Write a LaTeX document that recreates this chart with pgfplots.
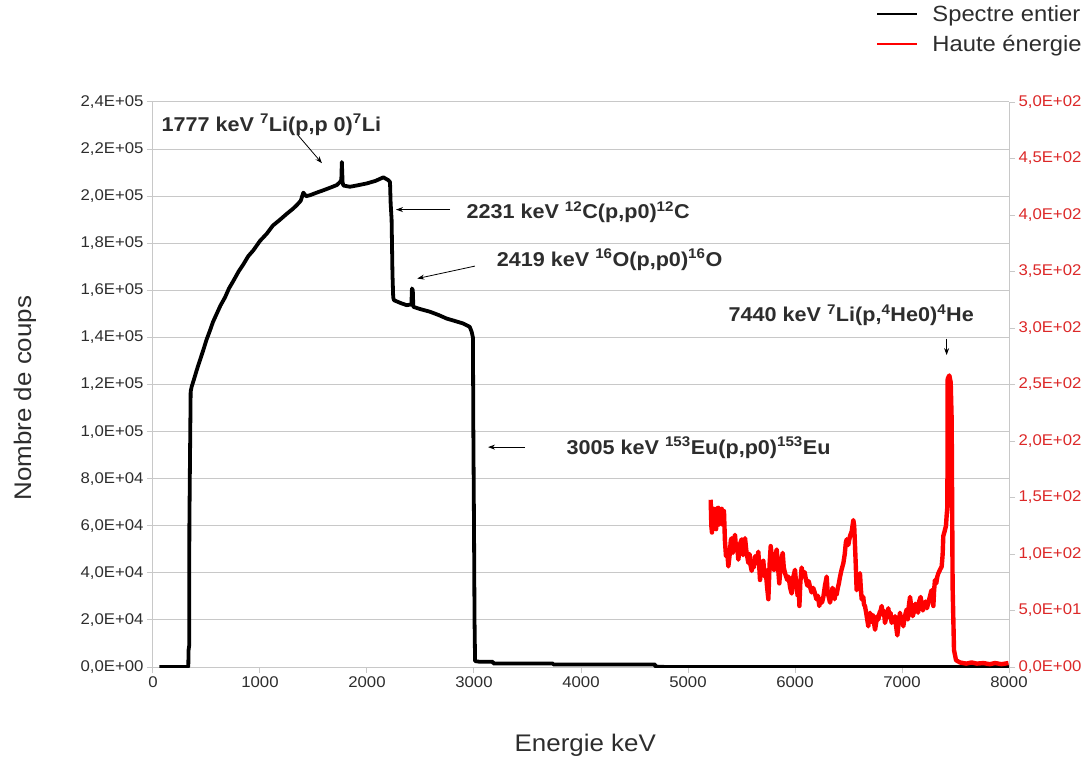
\documentclass[border=0pt]{standalone}
\usepackage{fontspec}
\setmainfont{Liberation Sans}[FakeStretch=1.08]
\usepackage{pgfplots}
\pgfplotsset{compat=1.18}
\usetikzlibrary{arrows.meta}
\definecolor{gridgray}{RGB}{200,200,200}
\definecolor{axred}{RGB}{220,40,40}
\definecolor{tickgray}{RGB}{45,45,45}
\begin{document}
\begin{tikzpicture}
\useasboundingbox (-153pt,-91pt) rectangle (939pt,667pt);
\begin{axis}[at={(0pt,0pt)}, anchor=south west, scale only axis,
  width=856pt, height=565pt,
  xmin=0, xmax=8000, ymin=0, ymax=240000,
  scaled ticks=false,
  axis x line*=bottom, axis y line*=left,
  axis line style={gridgray, line width=1pt, -},
  xtick={0,1000,...,8000},
  xticklabels={0,1000,2000,3000,4000,5000,6000,7000,8000},
  ytick={0,20000,...,240000},
  yticklabels={{0,0E+00},{2,0E+04},{4,0E+04},{6,0E+04},{8,0E+04},{1,0E+05},{1,2E+05},{1,4E+05},{1,6E+05},{1,8E+05},{2,0E+05},{2,2E+05},{2,4E+05}},
  tick style={gridgray, line width=1pt}, major tick length=6pt, tick align=outside,
  ymajorgrids, grid style={gridgray, line width=1pt},
  tick label style={font=\fontsize{15.5}{16}\selectfont, text=tickgray},
  ylabel={Nombre de coups},
  ylabel style={at={(-0.1495,0.476)}, anchor=center, font=\fontsize{24}{26}\selectfont, text=tickgray},
  xlabel={Energie keV},
  xlabel style={at={(0.505,-0.138)}, anchor=center, font=\fontsize{24}{26}\selectfont, text=tickgray},
]
\addplot[black, line width=3.8pt, line join=round] coordinates {
(60,0)(330,0)(332,7000)(338,9000)(340,60000)(345,85000)(352,117000)(361,119000)
(385,122500)(408,126000)(440,130500)(470,134600)(500,139000)(533,143000)(560,146500)(595,150000)(630,153500)(673,157000)(710,160800)(751,164000)(800,168000)(844,171000)
(890,174500)(938,177000)(1000,181000)(1062,184000)(1120,187500)(1187,190000)(1250,192500)(1312,194800)(1350,196500)(1380,198000)(1405,201500)(1430,200000)
(1467,200400)(1530,201500)(1592,202500)(1650,203500)(1717,204700)(1748,206000)(1760,207000)
(1765,214500)(1772,206000)(1779,204500)(1841,204000)(1900,204500)(1997,205400)(2080,206500)
(2153,208000)(2199,206800)(2215,206000)(2221,197000)(2230,190000)(2238,167000)(2245,157000)
(2252,155800)(2320,154500)(2371,153700)(2415,154000)(2420,160800)(2428,160000)(2433,153000)
(2500,152000)(2589,150900)(2670,149500)(2745,148000)(2820,147000)(2900,145900)(2960,144500)
(2978,142400)(2990,140000)(2994,100000)(3000,60000)(3005,20000)(3010,2500)(3056,2200)
(3178,2200)(3180,1500)(3738,1500)(3740,1100)(4692,1100)(4695,200)(4800,0)(8000,0)
};
\node[anchor=base west, font=\fontsize{20}{22}\selectfont\bfseries, text=tickgray] at (axis cs:47,227600)
  {1777 keV \textsuperscript{7}Li(p,p 0)\textsuperscript{7}Li};
\draw[-{Stealth[length=7pt,width=5pt]}, line width=0.8pt] (axis cs:1355,225900) -- (axis cs:1579,214000);
\node[anchor=base west, font=\fontsize{20}{22}\selectfont\bfseries, text=tickgray] at (axis cs:2897,190500)
  {2231 keV \textsuperscript{12}C(p,p0)\textsuperscript{12}C};
\draw[-{Stealth[length=7pt,width=5pt]}, line width=0.8pt] (axis cs:2776,194300) -- (axis cs:2271,194300);
\node[anchor=base west, font=\fontsize{20}{22}\selectfont\bfseries, text=tickgray] at (axis cs:3180,170300)
  {2419 keV \textsuperscript{16}O(p,p0)\textsuperscript{16}O};
\draw[-{Stealth[length=7pt,width=5pt]}, line width=0.8pt] (axis cs:3009,170300) -- (axis cs:2470,165000);
\node[anchor=base west, font=\fontsize{20}{22}\selectfont\bfseries, text=tickgray] at (axis cs:3832,90400)
  {3005 keV \textsuperscript{153}Eu(p,p0)\textsuperscript{153}Eu};
\draw[-{Stealth[length=7pt,width=5pt]}, line width=0.8pt] (axis cs:3477,93400) -- (axis cs:3131,93400);
\node[anchor=base west, font=\fontsize{20}{22}\selectfont\bfseries, text=tickgray] at (axis cs:5346,146600)
  {7440 keV \textsuperscript{7}Li(p,\textsuperscript{4}He0)\textsuperscript{4}He};
\draw[-{Stealth[length=7pt,width=5pt]}, line width=0.8pt] (axis cs:7417,139500) -- (axis cs:7417,132500);
\end{axis}
\begin{axis}[at={(0pt,0pt)}, anchor=south west, scale only axis,
  width=856pt, height=565pt,
  xmin=0, xmax=8000, ymin=0, ymax=500,
  scaled ticks=false,
  axis x line=none, axis y line*=right,
  axis line style={gridgray, line width=1pt, -},
  ytick={0,50,...,500},
  yticklabels={{0,0E+00},{5,0E+01},{1,0E+02},{1,5E+02},{2,0E+02},{2,5E+02},{3,0E+02},{3,5E+02},{4,0E+02},{4,5E+02},{5,0E+02}},
  tick style={gridgray, line width=1pt}, major tick length=6pt, tick align=outside,
  tick label style={font=\fontsize{15.5}{16}\selectfont, text=axred},
  legend style={at={(1.091,1.178)}, anchor=north east, draw=none, fill=none,
    font=\fontsize{22}{23}\selectfont, row sep=8pt, text=tickgray},
  legend cell align=left,
  legend image code/.code={\draw[#1] (0pt,0pt) -- (40pt,0pt); \path (52pt,0pt);},
]
\addlegendimage{black, line width=2.2pt}
\addlegendentry{Spectre entier}
\addlegendimage{red, line width=2.2pt}
\addlegendentry{Haute énergie}
\addplot[red, line width=4.4pt, line join=round, forget plot] coordinates {
(5212,148)(5218,125)(5224,119)(5231,132)(5240,140)(5246,128)(5252,137)(5262,122)(5270,140)(5283,141)
(5292,126)(5305,131)(5315,140)(5325,126)(5336,138)(5345,112)(5355,98)(5365,104)(5377,89)(5390,100)
(5400,112)(5408,114)(5420,101)(5430,110)(5439,117)(5450,104)(5460,108)(5470,95)(5480,102)(5490,110)
(5502,113)(5515,99)(5525,108)(5533,114)(5545,103)(5555,97)(5564,92)(5575,100)(5585,90)(5595,85)
(5605,94)(5615,88)(5626,98)(5640,92)(5657,102)(5665,90)(5673,77)(5685,88)(5695,83)(5704,94)
(5715,80)(5725,86)(5740,70)(5751,60)(5762,90)(5773,107)(5785,95)(5795,100)(5804,86)(5815,98)
(5829,104)(5840,90)(5853,74)(5865,88)(5875,96)(5885,101)(5895,88)(5910,82)(5928,77)(5940,80)
(5955,70)(5969,65)(5980,78)(5990,82)(6000,86)(6012,72)(6025,63)(6035,70)(6041,54)(6050,75)
(6062,88)(6075,80)(6090,84)(6103,77)(6115,72)(6128,76)(6140,71)(6155,66)(6170,70)(6187,65)
(6200,60)(6215,63)(6227,54)(6240,60)(6252,57)(6265,62)(6280,72)(6296,80)(6305,66)(6315,62)
(6327,57)(6340,63)(6350,70)(6358,68)(6370,60)(6380,67)(6389,64)(6400,70)(6410,74)(6421,80)
(6435,86)(6452,92)(6465,100)(6475,110)(6483,113)(6498,108)(6514,116)(6530,120)(6545,130)(6553,125)
(6561,107)(6568,90)(6576,68)(6590,72)(6600,80)(6607,83)(6615,70)(6623,60)(6638,62)(6645,55)
(6654,54)(6665,48)(6675,42)(6685,36)(6693,44)(6701,48)(6715,40)(6725,46)(6732,45)(6740,38)
(6748,33)(6760,40)(6770,45)(6779,42)(6790,48)(6800,50)(6810,54)(6820,46)(6830,50)(6841,39)
(6855,45)(6865,48)(6872,52)(6882,44)(6893,48)(6903,39)(6915,44)(6925,40)(6935,45)(6945,36)
(6956,28)(6968,38)(6981,48)(6995,40)(7005,44)(7012,36)(7025,44)(7035,48)(7044,51)(7055,42)
(7065,55)(7075,62)(7088,52)(7100,45)(7115,50)(7125,56)(7137,54)(7150,48)(7160,58)(7174,62)
(7185,55)(7195,50)(7206,54)(7220,58)(7233,52)(7246,57)(7260,62)(7270,66)(7277,68)(7285,60)
(7293,54)(7300,68)(7308,77)(7320,74)(7330,80)(7340,83)(7355,86)(7371,89)(7380,100)(7386,116)
(7398,120)(7411,125)(7418,135)(7424,142)(7427,255)(7442,258)(7455,252)(7464,219)(7473,71)(7486,15)
(7505,6)(7542,4)(7600,3)(7650,4)(7700,3)(7760,3.5)(7820,2.5)(7870,3.5)(7930,2.5)(7995,3.5)
};
\end{axis}
\end{tikzpicture}
\end{document}
